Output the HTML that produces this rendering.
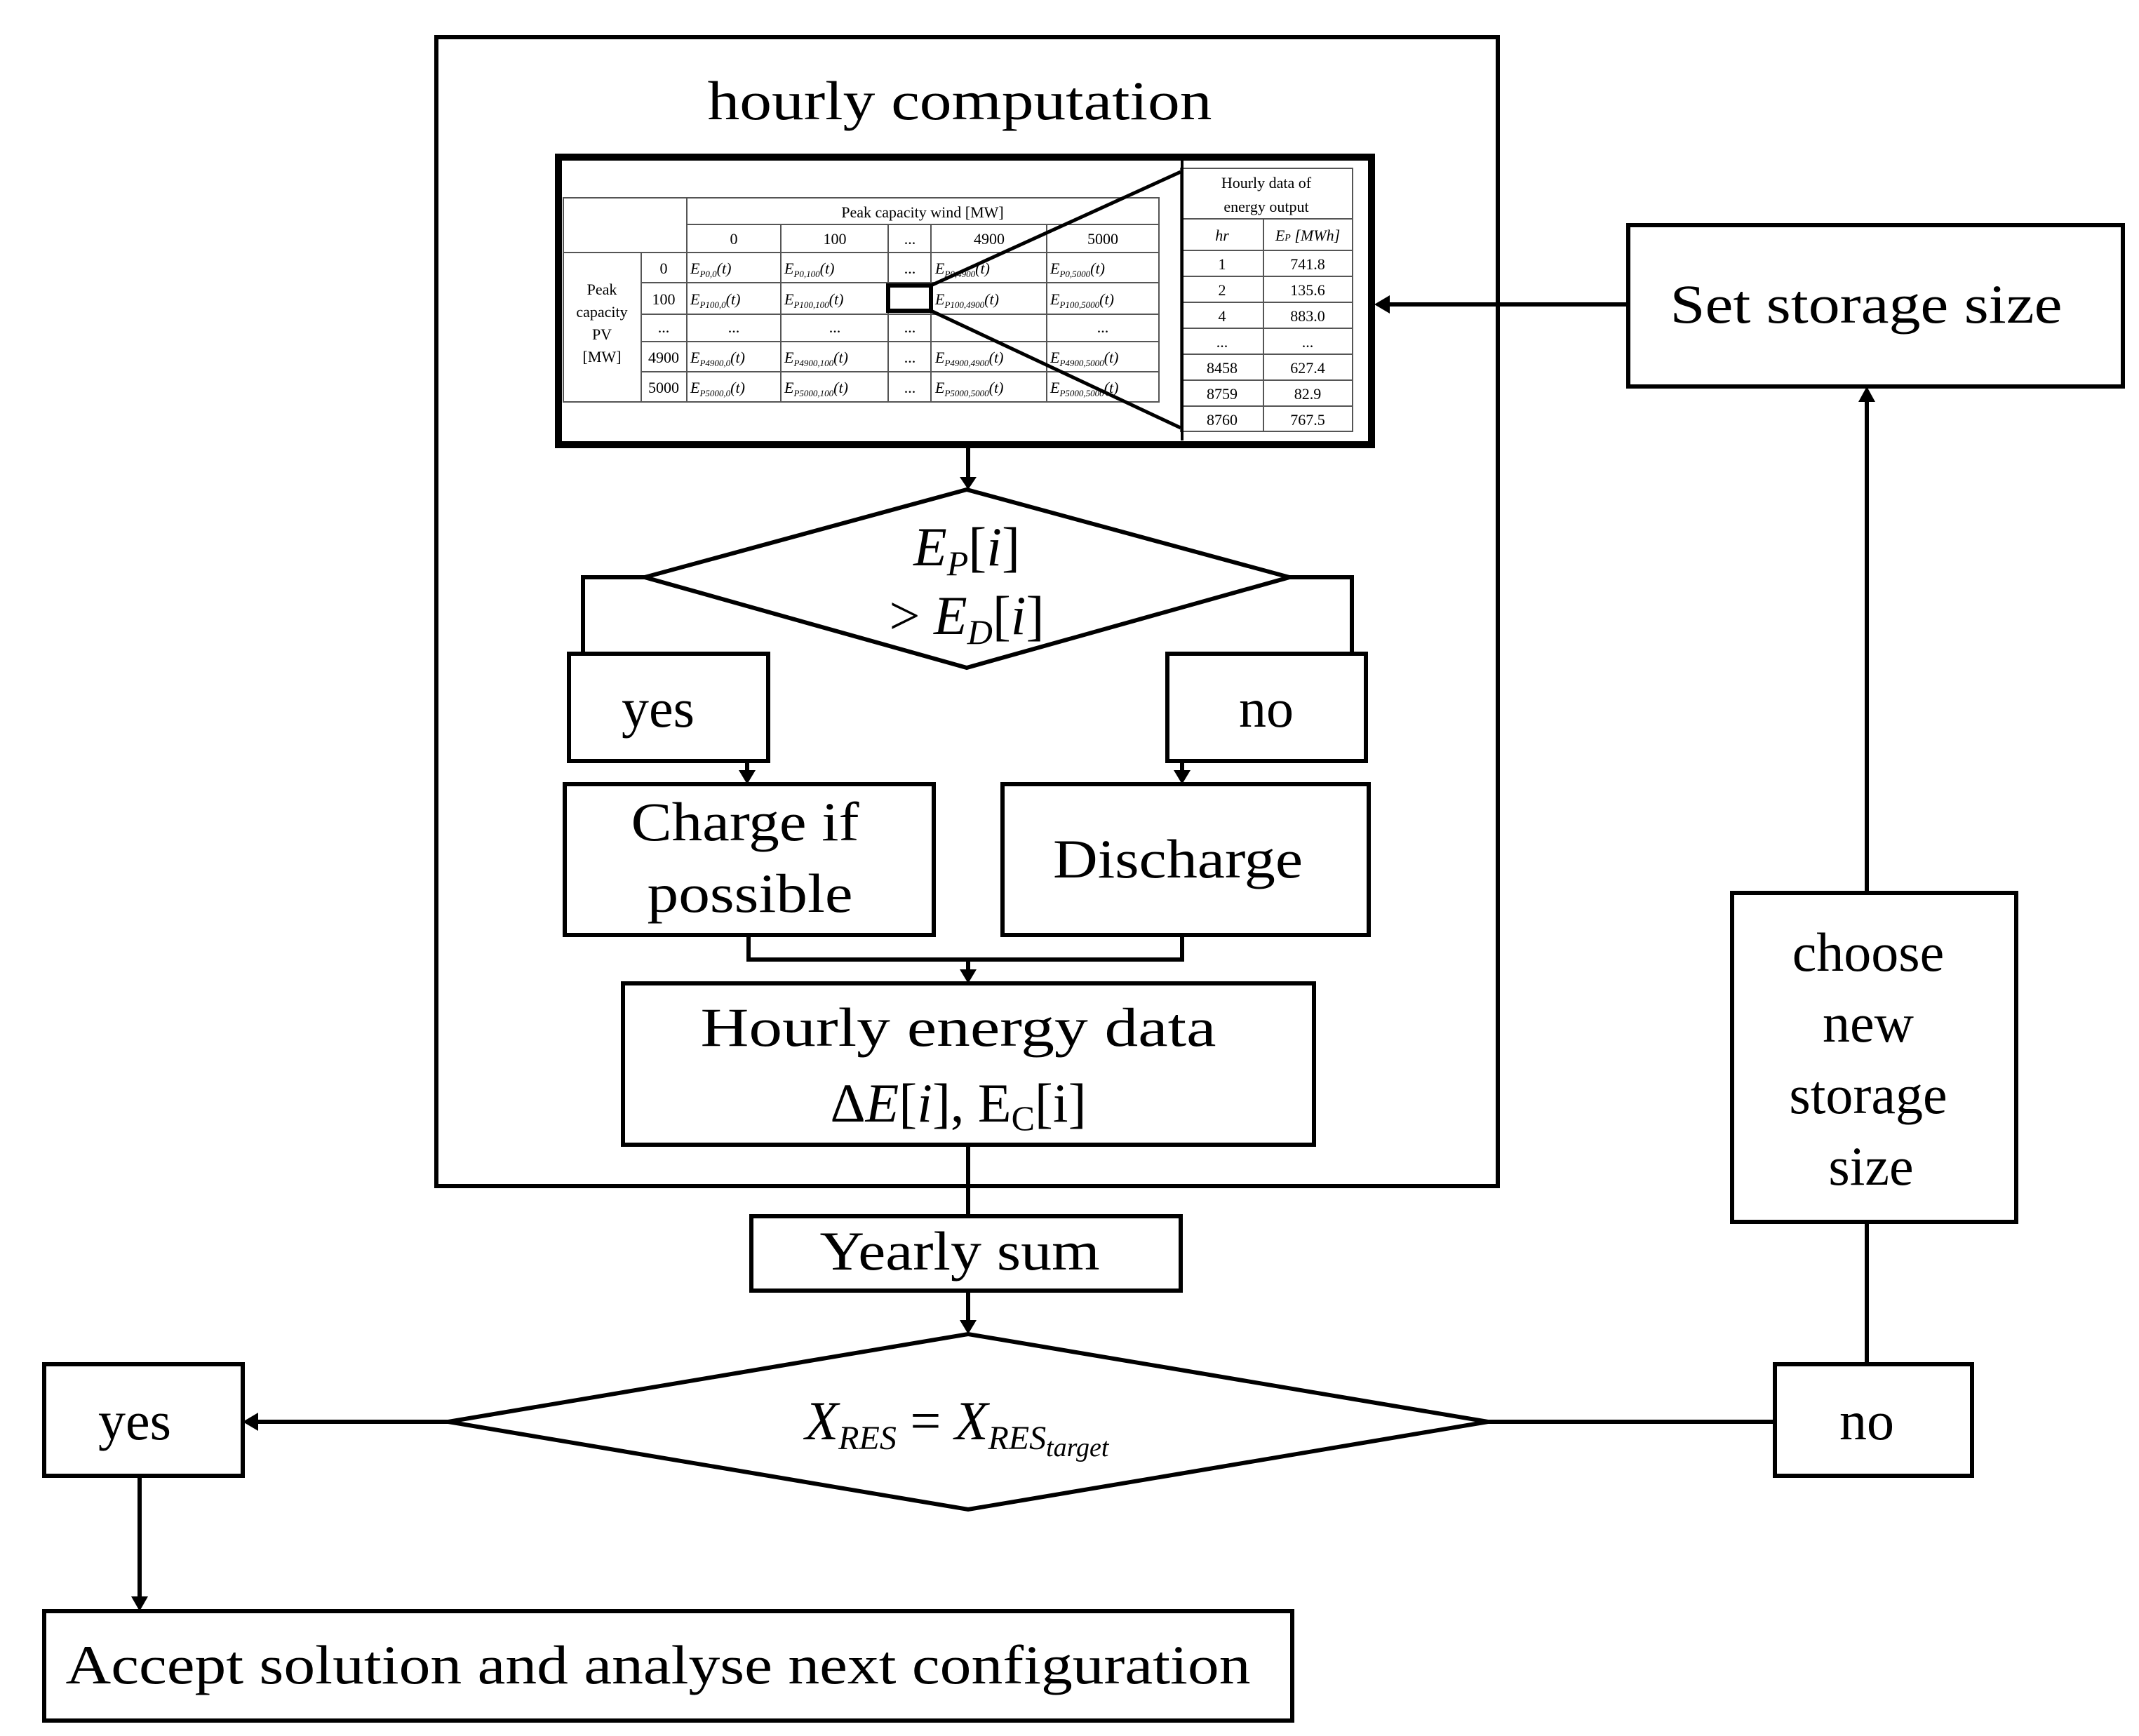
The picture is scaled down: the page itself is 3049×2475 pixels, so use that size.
<!DOCTYPE html>
<html><head><meta charset="utf-8"><style>
html,body{margin:0;padding:0;background:#fff}
svg{display:block}
text{font-family:"Liberation Serif",serif;fill:#000}
.b{font-size:78px}
.t{font-size:22px}
</style></head><body>
<svg width="3049" height="2475" viewBox="0 0 3049 2475" xmlns="http://www.w3.org/2000/svg">
<defs>
<marker id="ar" markerWidth="8" markerHeight="8" refX="7" refY="4" orient="auto" markerUnits="userSpaceOnUse" viewBox="0 0 8 8">
</marker>
</defs>
<g fill="none" stroke="#000" stroke-width="6">
<!-- outer box -->
<rect x="622" y="53" width="1513" height="1638"/>
<!-- diamond 1 -->
<polygon points="919,823 1378,698 1838,823 1378,952"/>
<!-- yes / no inner -->
<rect x="811" y="932" width="284" height="153"/>
<rect x="1664" y="932" width="283" height="153"/>
<polyline points="919,823 831,823 831,932"/>
<polyline points="1838,823 1927,823 1927,932"/>
<rect x="805" y="1118" width="526" height="215"/>
<rect x="1429" y="1118" width="522" height="215"/>
<line x1="1065" y1="1085" x2="1065" y2="1100"/>
<line x1="1685" y1="1085" x2="1685" y2="1100"/>
<polyline points="1067,1333 1067,1368 1685,1368 1685,1333"/>
<line x1="1380" y1="1368" x2="1380" y2="1384"/>
<rect x="888" y="1402" width="985" height="230"/>
<line x1="1380" y1="1632" x2="1380" y2="1734"/>
<rect x="1071" y="1734" width="612" height="106"/>
<line x1="1380" y1="1840" x2="1380" y2="1884"/>
<polygon points="639,2027 1380,1902 2121,2027 1380,2152"/>
<rect x="63" y="1945" width="283" height="159"/>
<line x1="639" y1="2027" x2="366" y2="2027"/>
<line x1="199" y1="2104" x2="199" y2="2278"/>
<rect x="63" y="2297" width="1779" height="156"/>
<line x1="2121" y1="2027" x2="2530" y2="2027"/>
<rect x="2530" y="1945" width="281" height="159"/>
<line x1="2661" y1="1945" x2="2661" y2="1742"/>
<rect x="2469" y="1273" width="405" height="469"/>
<line x1="2661" y1="1273" x2="2661" y2="570"/>
<rect x="2321" y="321" width="705" height="230"/>
<line x1="2321" y1="434" x2="1978" y2="434"/>
<line x1="1380" y1="637" x2="1380" y2="680"/>
</g>
<!-- arrowheads -->
<g fill="#000">
<polygon points="1368,680 1392,680 1380,698"/>
<polygon points="1053,1098 1077,1098 1065,1118"/>
<polygon points="1673,1098 1697,1098 1685,1118"/>
<polygon points="1368,1382 1392,1382 1380,1402"/>
<polygon points="1368,1882 1392,1882 1380,1902"/>
<polygon points="368,2014 368,2040 346,2027"/>
<polygon points="187,2276 211,2276 199,2297"/>
<polygon points="2649,573 2673,573 2661,551"/>
<polygon points="1981,421 1981,447 1959,434"/>
</g>
<!-- table -->
<rect x="796" y="224" width="1159" height="410" fill="#fff" stroke="#000" stroke-width="10"/>
<g stroke="#555" stroke-width="2" fill="none">
<rect x="803" y="282" width="849" height="291"/>
<line x1="979" y1="282" x2="979" y2="573"/>
<line x1="979" y1="320" x2="1652" y2="320"/>
<line x1="803" y1="360" x2="1652" y2="360"/>
<line x1="914" y1="360" x2="914" y2="573"/>
<line x1="914" y1="403" x2="1652" y2="403"/>
<line x1="914" y1="448" x2="1652" y2="448"/>
<line x1="914" y1="487" x2="1652" y2="487"/>
<line x1="914" y1="530" x2="1652" y2="530"/>
<line x1="1113" y1="320" x2="1113" y2="573"/>
<line x1="1266" y1="320" x2="1266" y2="573"/>
<line x1="1327" y1="320" x2="1327" y2="573"/>
<line x1="1492" y1="320" x2="1492" y2="573"/>
<rect x="1683" y="240" width="245" height="375"/>
<line x1="1683" y1="312" x2="1928" y2="312"/>
<line x1="1683" y1="357" x2="1928" y2="357"/>
<line x1="1801" y1="312" x2="1801" y2="615"/>
<line x1="1683" y1="394" x2="1928" y2="394"/>
<line x1="1683" y1="431" x2="1928" y2="431"/>
<line x1="1683" y1="468" x2="1928" y2="468"/>
<line x1="1683" y1="505" x2="1928" y2="505"/>
<line x1="1683" y1="542" x2="1928" y2="542"/>
<line x1="1683" y1="579" x2="1928" y2="579"/>
</g>
<rect x="1683" y="226" width="4" height="402" fill="#000"/>
<g class="t" text-anchor="middle">
<text x="1315" y="310">Peak capacity wind [MW]</text>
<text x="1046" y="348">0</text><text x="1190" y="348">100</text><text x="1297" y="348">...</text><text x="1410" y="348">4900</text><text x="1572" y="348">5000</text>
<text x="858" y="420">Peak</text><text x="858" y="452">capacity</text><text x="858" y="484">PV</text><text x="858" y="516">[MW]</text>
<text x="946" y="390">0</text><text x="946" y="434">100</text><text x="946" y="474">...</text><text x="946" y="517">4900</text><text x="946" y="560">5000</text>
<text x="1297" y="390">...</text><text x="1297" y="517">...</text><text x="1297" y="560">...</text><text x="1297" y="474">...</text>
<text x="1046" y="474">...</text><text x="1190" y="474">...</text><text x="1572" y="474">...</text>
<text x="1805" y="268">Hourly data of</text><text x="1805" y="302">energy output</text>
<text x="1742" y="343" font-style="italic">hr</text><text x="1864" y="343" font-style="italic">E<tspan font-size="14">P</tspan> [MWh]</text>
<text x="1742" y="384">1</text><text x="1864" y="384">741.8</text>
<text x="1742" y="421">2</text><text x="1864" y="421">135.6</text>
<text x="1742" y="458">4</text><text x="1864" y="458">883.0</text>
<text x="1742" y="495">...</text><text x="1864" y="495">...</text>
<text x="1742" y="532">8458</text><text x="1864" y="532">627.4</text>
<text x="1742" y="569">8759</text><text x="1864" y="569">82.9</text>
<text x="1742" y="606">8760</text><text x="1864" y="606">767.5</text>
</g>
<g class="t" font-style="italic">
<text x="984" y="390">E<tspan font-size="13" dy="5">P0,0</tspan><tspan dy="-5">(t)</tspan></text>
<text x="1118" y="390">E<tspan font-size="13" dy="5">P0,100</tspan><tspan dy="-5">(t)</tspan></text>
<text x="1333" y="390">E<tspan font-size="13" dy="5">P0,4900</tspan><tspan dy="-5">(t)</tspan></text>
<text x="1497" y="390">E<tspan font-size="13" dy="5">P0,5000</tspan><tspan dy="-5">(t)</tspan></text>
<text x="984" y="434">E<tspan font-size="13" dy="5">P100,0</tspan><tspan dy="-5">(t)</tspan></text>
<text x="1118" y="434">E<tspan font-size="13" dy="5">P100,100</tspan><tspan dy="-5">(t)</tspan></text>
<text x="1333" y="434">E<tspan font-size="13" dy="5">P100,4900</tspan><tspan dy="-5">(t)</tspan></text>
<text x="1497" y="434">E<tspan font-size="13" dy="5">P100,5000</tspan><tspan dy="-5">(t)</tspan></text>
<text x="984" y="517">E<tspan font-size="13" dy="5">P4900,0</tspan><tspan dy="-5">(t)</tspan></text>
<text x="1118" y="517">E<tspan font-size="13" dy="5">P4900,100</tspan><tspan dy="-5">(t)</tspan></text>
<text x="1333" y="517">E<tspan font-size="13" dy="5">P4900,4900</tspan><tspan dy="-5">(t)</tspan></text>
<text x="1497" y="517">E<tspan font-size="13" dy="5">P4900,5000</tspan><tspan dy="-5">(t)</tspan></text>
<text x="984" y="560">E<tspan font-size="13" dy="5">P5000,0</tspan><tspan dy="-5">(t)</tspan></text>
<text x="1118" y="560">E<tspan font-size="13" dy="5">P5000,100</tspan><tspan dy="-5">(t)</tspan></text>
<text x="1333" y="560">E<tspan font-size="13" dy="5">P5000,5000</tspan><tspan dy="-5">(t)</tspan></text>
<text x="1497" y="560">E<tspan font-size="13" dy="5">P5000,5000</tspan><tspan dy="-5">(t)</tspan></text>
</g>
<rect x="1266" y="407" width="61" height="36" fill="none" stroke="#000" stroke-width="6"/>
<g stroke="#000" stroke-width="5">
<line x1="1327" y1="407" x2="1683" y2="245"/>
<line x1="1327" y1="443" x2="1683" y2="610"/>
</g>
<!-- labels -->
<g class="b" text-anchor="middle">
<text x="1368" y="170" textLength="719" lengthAdjust="spacingAndGlyphs">hourly computation</text>
<text x="2660" y="460" textLength="559" lengthAdjust="spacingAndGlyphs">Set storage size</text>
<text x="1378" y="806" font-style="italic">E<tspan font-size="50" dy="14">P</tspan><tspan dy="-14" font-style="normal">[</tspan>i<tspan font-style="normal">]</tspan></text>
<text x="1378" y="904"><tspan>&gt; </tspan><tspan font-style="italic">E</tspan><tspan font-size="50" dy="14" font-style="italic">D</tspan><tspan dy="-14">[</tspan><tspan font-style="italic">i</tspan>]</text>
<text x="938" y="1036">yes</text>
<text x="1805" y="1036">no</text>
<text x="1062" y="1198" textLength="325" lengthAdjust="spacingAndGlyphs">Charge if</text>
<text x="1069" y="1300" textLength="293" lengthAdjust="spacingAndGlyphs">possible</text>
<text x="1679" y="1251" textLength="356" lengthAdjust="spacingAndGlyphs">Discharge</text>
<text x="1366" y="1491" textLength="735" lengthAdjust="spacingAndGlyphs">Hourly energy data</text>
<text x="1366" y="1599">Δ<tspan font-style="italic">E</tspan>[<tspan font-style="italic">i</tspan>], E<tspan font-size="50" dy="12">C</tspan><tspan dy="-12">[i]</tspan></text>
<text x="1368" y="1810" textLength="399" lengthAdjust="spacingAndGlyphs">Yearly sum</text>
<text x="1364" y="2052" font-style="italic">X<tspan font-size="48" dy="14">RES</tspan><tspan dy="-14" font-style="normal"> = </tspan>X<tspan font-size="48" dy="14">RES</tspan><tspan font-size="38" dy="10">target</tspan></text>
<text x="192" y="2052">yes</text>
<text x="2661" y="2052">no</text>
<text x="938" y="2400" textLength="1689" lengthAdjust="spacingAndGlyphs">Accept solution and analyse next configuration</text>
<text x="2663" y="1384">choose</text>
<text x="2663" y="1485">new</text>
<text x="2663" y="1587">storage</text>
<text x="2667" y="1689">size</text>
</g>
</svg>
</body></html>
